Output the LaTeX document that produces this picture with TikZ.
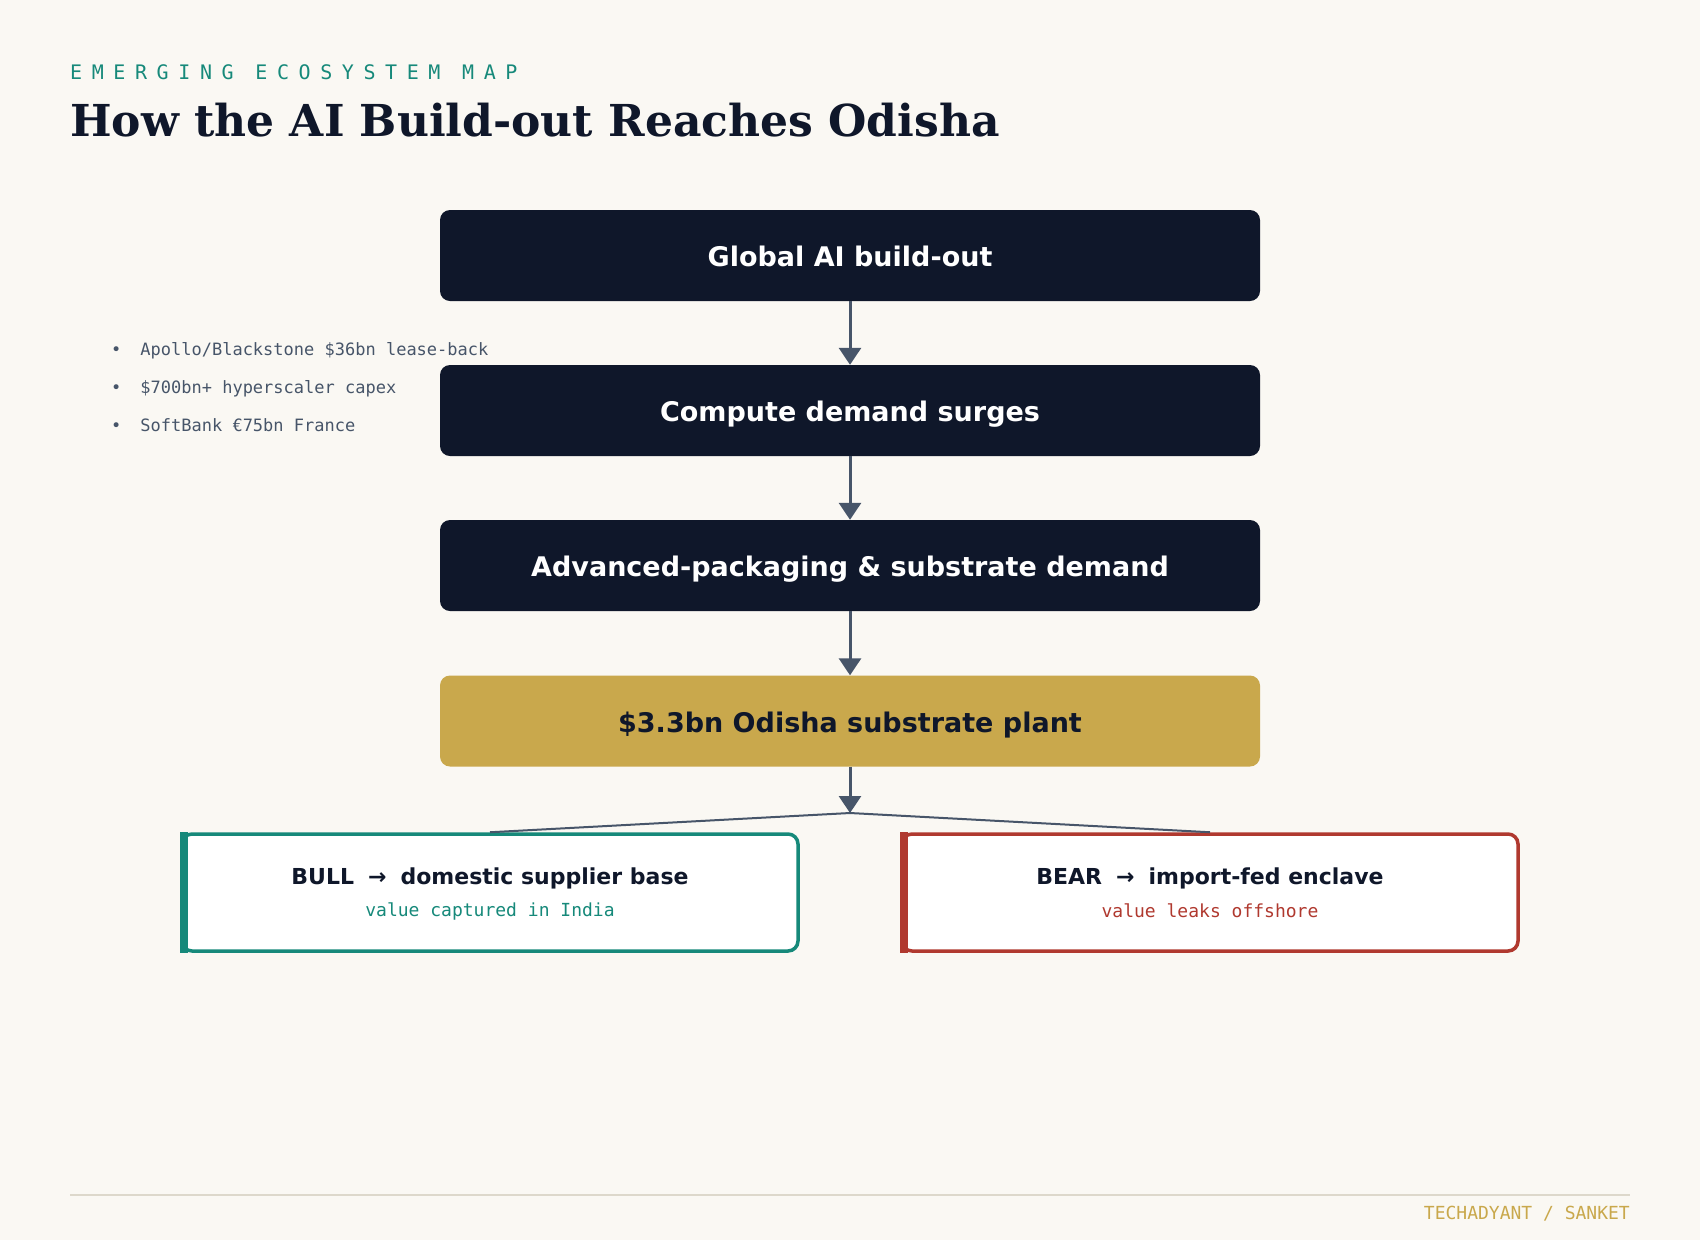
\documentclass[tikz,border=0pt]{standalone}
\usepackage{fontspec}
\setmainfont{DejaVu Sans}
\newfontfamily\serifb{DejaVu Serif}
\newfontfamily\monof{DejaVu Sans Mono}
\newfontfamily\monosp[LetterSpace=48]{DejaVu Sans Mono}
\usetikzlibrary{arrows.meta}
\definecolor{bgc}{HTML}{FAF8F3}
\definecolor{navy}{HTML}{0F172A}
\definecolor{gold}{HTML}{C9A84C}
\definecolor{teal}{HTML}{16897A}
\definecolor{brick}{HTML}{B0392F}
\definecolor{slate}{HTML}{475569}
\definecolor{rulec}{HTML}{DDD8CB}
\tikzset{
  flowbox/.style={rounded corners=10pt, minimum width=820pt, minimum height=91pt, inner sep=0pt,
    font=\bfseries\fontsize{27}{27}\selectfont},
  darkbox/.style={flowbox, fill=navy, text=white},
  goldbox/.style={flowbox, fill=gold, text=navy},
  flowlabel/.style={anchor=base, inner sep=0pt, font=\bfseries\fontsize{27}{27}\selectfont},
  flowarrow/.style={draw=slate, line width=3pt, -{Triangle[width=22pt,length=17pt]}},
  forkline/.style={draw=slate, line width=2pt},
  outcome/.style={rounded corners=10pt, minimum width=616pt, minimum height=117pt, inner sep=0pt,
    fill=white, line width=3.5pt},
  outhead/.style={inner sep=0pt, text=navy, font=\bfseries\fontsize{22}{22}\selectfont},
  outsub/.style={inner sep=0pt, font=\monof\fontsize{18}{18}\selectfont},
  bullettext/.style={anchor=base west, inner sep=0pt, text=slate, font=\monof\fontsize{17}{17}\selectfont},
}
\begin{document}
\begin{tikzpicture}[x=1pt,y=-1pt]
\fill[bgc] (0,0) rectangle (1700,1240);
\useasboundingbox (0,0) rectangle (1700,1240);

\node[anchor=base west, inner sep=0pt, text=teal] (kicker) at (70,79)
  {\monosp\fontsize{20}{20}\selectfont EMERGING ECOSYSTEM MAP};
\node[anchor=base west, inner sep=0pt, text=navy] (title) at (70,136)
  {\serifb\bfseries\fontsize{44}{44}\selectfont How the AI Build-out Reaches Odisha};

\node[bullettext] (b1) at (111,355) {•\hspace{19pt}Apollo/Blackstone \$36bn lease-back};
\node[bullettext] (b2) at (111,393) {•\hspace{19pt}\$700bn+ hyperscaler capex};
\node[bullettext] (b3) at (111,431) {•\hspace{19pt}SoftBank €75bn France};

\node[darkbox] (n1) at (850,255.5) {};
\node[darkbox] (n2) at (850,410.5) {};
\node[darkbox] (n3) at (850,565.5) {};
\node[goldbox] (n4) at (850,721) {};
\node[flowlabel, text=white] (l1) at (850,266.8) {Global AI build-out};
\node[flowlabel, text=white] (l2) at (850,421.8) {Compute demand surges};
\node[flowlabel, text=white] (l3) at (850,576.8) {Advanced-packaging \& substrate demand};
\node[flowlabel, text=navy] (l4) at (850,732.3) {\$3.3bn Odisha substrate plant};

\draw[flowarrow] (n1.south) -- (n2.north);
\draw[flowarrow] (n2.south) -- (n3.north);
\draw[flowarrow] (n3.south) -- (n4.north);
\coordinate (fork) at (850,813);
\draw[flowarrow] (n4.south) -- (fork);

\node[outcome, draw=teal] (bull) at (490,892.5) {};
\fill[teal] (bull.north west) rectangle ([xshift=8pt]bull.south west);
\node[outhead] (bullt) at (490,878)
  {BULL\hspace{14pt}→\hspace{14pt}domestic supplier base};
\node[outsub, text=teal] (bulls) at (490,911)
  {value captured in India};

\node[outcome, draw=brick] (bear) at (1210,892.5) {};
\fill[brick] (bear.north west) rectangle ([xshift=8pt]bear.south west);
\node[outhead] (beart) at (1210,878)
  {BEAR\hspace{14pt}→\hspace{14pt}import-fed enclave};
\node[outsub, text=brick] (bears) at (1210,911)
  {value leaks offshore};

\draw[forkline] (fork) -- (bull.north);
\draw[forkline] (fork) -- (bear.north);

\coordinate (ruleL) at (70,1195);
\coordinate (ruleR) at (1630,1195);
\draw[rulec, line width=1.5pt] (ruleL) -- (ruleR);
\node[anchor=east, inner sep=0pt, text=gold, font=\monof\fontsize{18}{18}\selectfont] (footer) at (1630,1214)
  {TECHADYANT / SANKET};
\end{tikzpicture}
\end{document}
